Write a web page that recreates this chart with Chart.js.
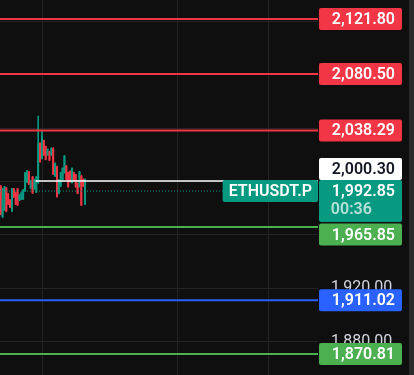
<!DOCTYPE html>
<html>
<head>
<meta charset="utf-8">
<script src="https://cdn.jsdelivr.net/npm/chart.js@4.4.1/dist/chart.umd.min.js"></script>
<style>
  html,body{margin:0;padding:0;background:#2a2a2a;}
  #wrap{position:absolute;left:0;top:0;width:409px;height:375px;background:#0f0f0f;}
</style>
</head>
<body>
<div id="wrap"><canvas id="c"></canvas></div>
<script>
// ETHUSDT.P — candles + horizontal levels on the right price scale
const candleOpen  = [1996.6,1973.6,1978.7,1995.1,1990.6,1986.1,1977.9,1994.4,1991.4,1994.4,1986.1,1986.9,1986.9,1992.9,1999.6,2007.1,1995.1,2003.4,1994.4,1992.1,2000.0,2028.6,2017.4,2030.6,2026.1,2019.9,2022.3,2019.9,2024.9,2004.1,2011.1,1991.2,1996.6,2001.1,2006.6,2011.6,2006.6,2007.6,1999.1,2006.6,2004.9,1998.6,1996.1,2004.1,2001.6,1983.1];
const candleHigh  = [1997.0,1995.0,1996.4,1995.6,1991.0,1986.5,1994.8,1994.9,1991.8,1994.9,1990.3,1991.8,1994.0,2006.9,2008.3,2007.5,2000.8,2003.8,2001.5,2003.8,2049.0,2029.0,2038.1,2031.0,2026.5,2024.5,2022.7,2025.3,2025.3,2014.0,2011.5,2001.5,2007.0,2010.3,2019.5,2012.0,2007.0,2008.0,2010.3,2007.0,2005.3,1999.0,2007.7,2004.5,2002.0,2002.0];
const candleLow   = [1974.9,1973.0,1978.2,1977.5,1982.6,1980.4,1977.4,1988.0,1982.7,1982.0,1985.7,1986.4,1986.5,1992.5,1999.2,1997.7,1994.7,1991.0,1994.0,1991.7,1998.6,2014.4,2017.0,2019.5,2016.2,2019.5,2015.7,2019.5,2005.2,2003.7,1988.2,1990.8,1996.2,2000.7,2006.2,2001.2,1995.7,1999.5,1998.7,2000.7,1995.7,1990.8,1995.7,1982.0,1996.2,1982.7];
const candleClose = [1976.0,1986.1,1995.9,1977.9,1983.1,1980.9,1994.4,1988.4,1983.1,1982.4,1989.9,1991.4,1993.6,2006.4,2007.9,1998.1,2000.4,1991.4,2001.1,2003.4,2028.0,2014.8,2034.0,2019.9,2016.6,2024.1,2016.1,2024.9,2005.6,2013.6,1988.6,2001.1,2006.6,2009.9,2019.1,2001.6,1996.1,1999.9,2009.9,2001.1,1996.1,1991.2,2007.3,1982.4,1996.6,2001.6];

const levelValues = [2121.80, 2080.50, 2038.29, 1965.85, 1911.02, 1870.81];
const levelColors = ['#f23645', '#f23645', '#f23645', '#4caf50', '#2962ff', '#4caf50'];
const markValue = 2000.30;
const markFromBar = 18.6;
const lastPrice = 1992.85;
const countdown = '00:36';
const symbol = 'ETHUSDT.P';
const priceTicks = [1880, 1920, 1960, 2000, 2040, 2080, 2120];
const timeGrid = [22.56, 94.3, 142.9];

const UP = '#089981', DOWN = '#f23645';
const xMin = -0.373, xMax = 169.23;
const yMin = 1855.06, yMax = 2135.96;
const FONT = 'Roboto, "Noto Sans", sans-serif';
const fmt = v => v.toLocaleString('en-US', {minimumFractionDigits: 2, maximumFractionDigits: 2});

const barColors = candleOpen.map((o, i) => candleClose[i] >= o ? UP : DOWN);
const wicks = candleOpen.map((o, i) => ({x: i, y: [candleLow[i], candleHigh[i]]}));
const bodies = candleOpen.map((o, i) => ({x: i, y: [o, candleClose[i]]}));

const hline = (v, from) => [{x: from, y: v}, {x: xMax, y: v}];
const datasets = [
  {type: 'bar', data: wicks, backgroundColor: barColors, barThickness: 1, grouped: false, order: 3},
  {type: 'bar', data: bodies, backgroundColor: barColors, barThickness: 1.3, minBarLength: 1, grouped: false, order: 2},
  {type: 'line', data: hline(lastPrice, xMin), borderColor: UP, borderWidth: 1, borderDash: [1, 2], pointRadius: 0, order: 1},
  {type: 'line', data: hline(markValue, markFromBar), borderColor: '#ffffff', borderWidth: 1.5, pointRadius: 0, order: 0},
  ...levelValues.map((v, k) => ({type: 'line', data: hline(v, xMin), borderColor: levelColors[k], borderWidth: 2, pointRadius: 0, order: 0}))
];

function box(ctx, x, y, w, h, fill) {
  ctx.fillStyle = fill;
  ctx.beginPath();
  if (ctx.roundRect) ctx.roundRect(x, y, w, h, 2); else ctx.rect(x, y, w, h);
  ctx.fill();
}

// price tags on the scale, ETHUSDT.P tag left of it
const tags = {
  id: 'tags',
  afterDraw(chart) {
    const {ctx, chartArea} = chart;
    const ys = chart.scales.y;
    const L = chartArea.right + 1, W = 83, H = 22, TX = chartArea.right + 77;
    ctx.save();
    ctx.font = '600 16px ' + FONT;
    ctx.textBaseline = 'middle';
    ctx.textAlign = 'right';

    const pY = ys.getPixelForValue(lastPrice);
    const pTop = pY - 11, pH = 42;
    box(ctx, L, pTop, W, pH, UP);
    ctx.fillStyle = '#ffffff';
    ctx.fillText(fmt(lastPrice), TX, pY + 1);
    const tl = TX - ctx.measureText(fmt(lastPrice)).width;
    ctx.textAlign = 'left';
    ctx.fillStyle = 'rgba(255,255,255,0.7)';
    ctx.fillText(countdown, tl - 1, pY + 19);
    ctx.textAlign = 'right';

    // white mark tag pushed above the price tag
    let mTop = ys.getPixelForValue(markValue) - H / 2;
    if (mTop + H > pTop) mTop = pTop - H;
    box(ctx, L, mTop, W, H, '#ffffff');
    ctx.fillStyle = '#131722';
    ctx.fillText(fmt(markValue), TX, mTop + H / 2 + 1);

    levelValues.forEach((v, k) => {
      let top = ys.getPixelForValue(v) - H / 2;
      if (top < pTop + pH + 1.5 && top + H > pTop) top = pTop + pH + 1.5;
      box(ctx, L, top, W, H, levelColors[k]);
      ctx.fillStyle = '#ffffff';
      ctx.fillText(fmt(v), TX, top + H / 2 + 1);
    });

    const sw = ctx.measureText(symbol).width + 12;
    box(ctx, chartArea.right - sw, pY - 11, sw, H, UP);
    ctx.fillStyle = '#ffffff';
    ctx.textAlign = 'left';
    ctx.fillText(symbol, chartArea.right - sw + 6, pY + 1);
    ctx.restore();
  }
};

new Chart(document.getElementById('c'), {
  type: 'bar',
  data: {datasets},
  plugins: [tags],
  options: {
    responsive: true, maintainAspectRatio: false, animation: false, events: [],
    layout: {padding: 0},
    plugins: {legend: {display: false}, tooltip: {enabled: false}},
    scales: {
      x: {
        type: 'linear', min: xMin, max: xMax, offset: false,
        grid: {color: '#232323', drawTicks: false, offset: false},
        border: {display: false},
        ticks: {display: false},
        afterBuildTicks: s => { s.ticks = timeGrid.map(v => ({value: v})); },
        afterFit: s => { s.height = 0; s.paddingLeft = 0; s.paddingRight = 0; }
      },
      y: {
        position: 'right', min: yMin, max: yMax,
        grid: {color: '#232323', drawTicks: false},
        border: {display: false},
        ticks: {color: '#d1d4dc', font: {family: FONT, size: 16}, padding: 13, crossAlign: 'near', callback: v => fmt(v)},
        afterBuildTicks: s => { s.ticks = priceTicks.map(v => ({value: v})); },
        afterFit: s => { s.width = 91; s.paddingTop = 0; s.paddingBottom = 0; }
      }
    }
  }
});
</script>
</body>
</html>
